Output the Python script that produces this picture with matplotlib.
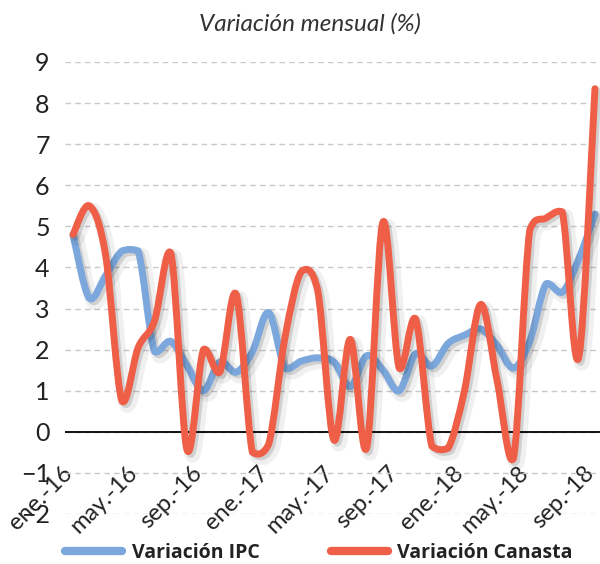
import numpy as np
import matplotlib
matplotlib.use("Agg")
import matplotlib.pyplot as plt
from matplotlib.path import Path
from matplotlib.patches import PathPatch
from matplotlib.lines import Line2D
import matplotlib.patheffects as pe
import matplotlib.transforms as mtransforms

months = ["ene.-16", "feb.-16", "mar.-16", "abr.-16", "may.-16", "jun.-16", "jul.-16", "ago.-16",
          "sep.-16", "oct.-16", "nov.-16", "dic.-16", "ene.-17", "feb.-17", "mar.-17", "abr.-17",
          "may.-17", "jun.-17", "jul.-17", "ago.-17", "sep.-17", "oct.-17", "nov.-17", "dic.-17",
          "ene.-18", "feb.-18", "mar.-18", "abr.-18", "may.-18", "jun.-18", "jul.-18", "ago.-18",
          "sep.-18"]

ipc = [4.8, 3.25, 3.8, 4.4, 4.4, 1.95, 2.2, 1.6, 1.0, 1.7, 1.45, 1.95, 2.9, 1.55, 1.72, 1.8, 1.7,
       1.1, 1.85, 1.5, 1.0, 1.9, 1.6, 2.15, 2.35, 2.5, 2.1, 1.55, 2.2, 3.6, 3.4, 4.2, 5.3]

canasta = [4.8, 5.5, 4.3, 0.75, 2.05, 2.7, 4.35, -0.45, 2.0, 1.45, 3.35, -0.5, -0.3, 2.3, 3.9,
           3.45, -0.2, 2.25, -0.4, 5.1, 1.55, 2.75, -0.35, -0.4, 1.0, 3.1, 1.25, -0.65, 4.9, 5.2,
           5.35, 1.8, 8.35]

tick_idx = list(range(0, len(months), 4))
yticks = list(range(-2, 10))

blue = "#7BA7DC"
red = "#EF5F48"

def smooth_path(xs, ys):
    pts = np.column_stack([xs, ys]).astype(float)
    n = len(pts)
    verts = [pts[0]]
    codes = [Path.MOVETO]
    for i in range(n - 1):
        p0 = pts[i - 1] if i > 0 else pts[i]
        p1 = pts[i]
        p2 = pts[i + 1]
        p3 = pts[i + 2] if i + 2 < n else pts[i + 1]
        c1 = p1 + (p2 - p0) / 6.0
        c2 = p2 - (p3 - p1) / 6.0
        lo, hi = min(p1[1], p2[1]), max(p1[1], p2[1])
        pad = 0.12 * (hi - lo) + 0.05
        c1[1] = np.clip(c1[1], lo - pad, hi + pad)
        c2[1] = np.clip(c2[1], lo - pad, hi + pad)
        verts += [c1, c2, p2]
        codes += [Path.CURVE4] * 3
    return Path(verts, codes)

plt.rcParams['font.family'] = ['Lato', 'DejaVu Sans']

fig = plt.figure(figsize=(6.0, 5.64), dpi=100)
ax = fig.add_axes([0.1083, 0.0887, 0.8917, 0.8014])

x = np.arange(len(months))
ax.set_xlim(-0.49, 32.31)
ax.set_ylim(-2, 9)

ax.set_yticks(yticks)
ax.yaxis.grid(True, color="#C8C8C8", linestyle=(0, (4, 3)), linewidth=1.0)
ax.set_axisbelow(True)
ax.axhline(0, color="black", linewidth=1.3, zorder=2)

shadow = [pe.SimpleLineShadow(offset=(3, -3), shadow_color="black", alpha=0.06, linewidth=10),
          pe.SimpleLineShadow(offset=(2, -2), shadow_color="black", alpha=0.13),
          pe.Normal()]

for vals, col, z in [(ipc, blue, 3), (canasta, red, 4)]:
    patch = PathPatch(smooth_path(x, vals), fill=False, edgecolor=col, linewidth=5,
                      capstyle="round", joinstyle="round", zorder=z)
    patch.set_path_effects(shadow)
    ax.add_patch(patch)

for s in ax.spines.values():
    s.set_visible(False)

ax.set_xticks(tick_idx)
ax.set_xticklabels([months[i] for i in tick_idx], rotation=45, ha="right", va="center",
                   rotation_mode="anchor", fontsize=17, color="#222222")
ax.tick_params(axis="x", length=0, pad=-32)
shift = mtransforms.ScaledTranslation(-3 / 72, 0, fig.dpi_scale_trans)
for lab in ax.get_xticklabels():
    lab.set_transform(lab.get_transform() + shift)
ax.tick_params(axis="y", length=0, pad=11, labelsize=18, labelcolor="#222222")

fig.text(0.517, 1 - 24 / 564, "Variación mensual (%)", ha="center", va="center",
         fontsize=17.5, style="italic", color="#333333")

handles = [Line2D([], [], color=blue, linewidth=6, solid_capstyle="round"),
           Line2D([], [], color=red, linewidth=6, solid_capstyle="round")]
fig.legend(handles, ["Variación IPC", "Variación Canasta"], loc="center",
           bbox_to_anchor=(0.532, 11 / 564), ncol=2, frameon=False,
           prop={"family": ["Open Sans", "DejaVu Sans"], "weight": "bold", "size": 14},
           handlelength=2.9, handletextpad=0.5, columnspacing=3.7, labelcolor="#222222")

fig.savefig("out.png", dpi=100)
